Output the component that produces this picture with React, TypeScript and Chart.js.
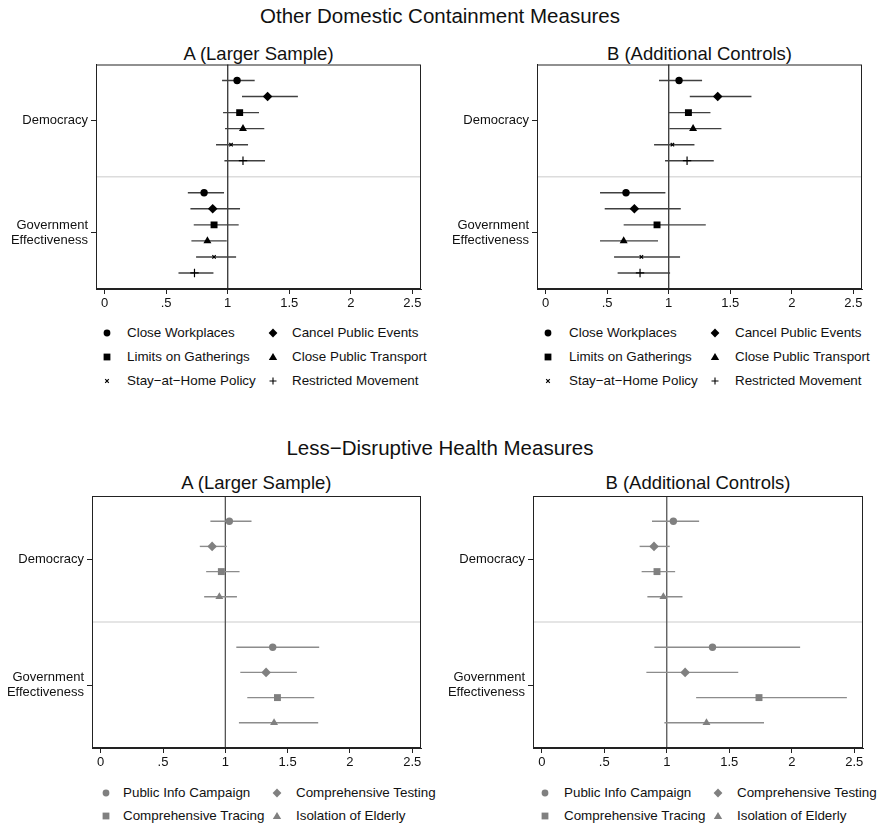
import React, { useEffect, useRef } from 'react';
import { Chart, registerables } from 'chart.js';
Chart.register(...registerables);

const FONT = '"Liberation Sans", Arial, Helvetica, sans-serif';

// ---- categories / labels ----
const containmentSeries = ['Close Workplaces', 'Cancel Public Events', 'Limits on Gatherings', 'Close Public Transport', 'Stay\u2212at\u2212Home Policy', 'Restricted Movement'];
const healthSeries = ['Public Info Campaign', 'Comprehensive Testing', 'Comprehensive Tracing', 'Isolation of Elderly'];
const groupLabels = ['Democracy', ['Government', 'Effectiveness']];
const xTickValues = [0, 0.5, 1, 1.5, 2, 2.5];
const xTickLabels = ['0', '.5', '1', '1.5', '2', '2.5'];

// ---- Other Domestic Containment Measures, A (Larger Sample) ----
const topA_dem = [1.076, 1.324, 1.097, 1.124, 1.027, 1.124];
const topA_demLo = [0.954, 1.116, 0.962, 0.978, 0.905, 0.973];
const topA_demHi = [1.219, 1.570, 1.254, 1.297, 1.165, 1.303];
const topA_gov = [0.808, 0.878, 0.889, 0.835, 0.889, 0.730];
const topA_govLo = [0.676, 0.697, 0.724, 0.705, 0.743, 0.600];
const topA_govHi = [0.970, 1.100, 1.089, 0.992, 1.068, 0.884];

// ---- Other Domestic Containment Measures, B (Additional Controls) ----
const topB_dem = [1.084, 1.398, 1.160, 1.198, 1.030, 1.149];
const topB_demLo = [0.921, 1.171, 1.000, 1.005, 0.881, 0.970];
const topB_demHi = [1.271, 1.672, 1.339, 1.428, 1.209, 1.366];
const topB_gov = [0.653, 0.721, 0.905, 0.634, 0.778, 0.767];
const topB_govLo = [0.442, 0.480, 0.634, 0.442, 0.556, 0.585];
const topB_govHi = [0.973, 1.098, 1.301, 0.913, 1.092, 1.011];

// ---- Less-Disruptive Health Measures, A (Larger Sample) ----
const botA_dem = [1.032, 0.894, 0.968, 0.952];
const botA_demLo = [0.880, 0.795, 0.846, 0.830];
const botA_demHi = [1.210, 1.011, 1.114, 1.093];
const botA_gov = [1.380, 1.327, 1.418, 1.391];
const botA_govLo = [1.088, 1.120, 1.176, 1.109];
const botA_govHi = [1.753, 1.574, 1.713, 1.745];

// ---- Less-Disruptive Health Measures, B (Additional Controls) ----
const botB_dem = [1.053, 0.898, 0.922, 0.973];
const botB_demLo = [0.882, 0.783, 0.799, 0.845];
const botB_demHi = [1.259, 1.024, 1.067, 1.126];
const botB_gov = [1.366, 1.147, 1.738, 1.318];
const botB_govLo = [0.901, 0.837, 1.235, 0.981];
const botB_govHi = [2.067, 1.572, 2.441, 1.778];

const markerStyles = ['circle', 'rectRot', 'rect', 'triangle', 'crossRot', 'cross'];
const markerRadii = [3.7, 4.8, 4.9, 4.6, 2.4, 4.2];

type PanelProps = {
  series: string[];
  dem: number[]; demLo: number[]; demHi: number[];
  gov: number[]; govLo: number[]; govHi: number[];
  left: number; top: number; width: number; height: number;
  yAxisWidth: number; padRight: number; padTop: number;
  markerColor: string; lineColor: string; refColor: string;
};

function Panel(p: PanelProps) {
  const ref = useRef<HTMLCanvasElement | null>(null);
  useEffect(() => {
    const n = p.series.length;
    const datasets: any[] = [];
    p.series.forEach((name, i) => {
      const isCross = markerStyles[i] === 'cross' || markerStyles[i] === 'crossRot';
      datasets.push({
        type: 'scatter',
        label: name,
        data: [{ x: p.dem[i], y: i }, { x: p.gov[i], y: n + 1 + i }],
        pointStyle: markerStyles[i],
        pointRadius: markerRadii[i],
        pointBackgroundColor: p.markerColor,
        pointBorderColor: p.markerColor,
        pointBorderWidth: isCross ? 1.2 : 0,
        showLine: false,
        order: 0,
      });
      const bars = [
        [p.demLo[i], p.demHi[i], i],
        [p.govLo[i], p.govHi[i], n + 1 + i],
      ];
      bars.forEach(([lo, hi, y]) => {
        datasets.push({
          type: 'scatter',
          label: name + ' CI',
          data: [{ x: lo, y }, { x: hi, y }],
          showLine: true,
          borderColor: p.lineColor,
          borderWidth: 1.4,
          pointRadius: 0,
          order: 1,
        });
      });
    });

    const frameColor = '#222';
    const framePlugin = {
      id: 'frame',
      beforeDatasetsDraw(chart: any) {
        const { ctx, chartArea: a, scales } = chart;
        ctx.save();
        const ys = scales.y.getPixelForValue(n);
        ctx.strokeStyle = '#dcdcdc';
        ctx.lineWidth = 1.5;
        ctx.beginPath();
        ctx.moveTo(a.left, ys);
        ctx.lineTo(a.right, ys);
        ctx.stroke();
        const x1 = scales.x.getPixelForValue(1);
        ctx.strokeStyle = p.refColor;
        ctx.lineWidth = 1.3;
        ctx.beginPath();
        ctx.moveTo(x1, a.top);
        ctx.lineTo(x1, a.bottom);
        ctx.stroke();
        ctx.restore();
      },
      afterDraw(chart: any) {
        const { ctx, chartArea: a } = chart;
        ctx.save();
        ctx.strokeStyle = frameColor;
        ctx.lineWidth = 1;
        ctx.strokeRect(a.left + 0.5, a.top + 0.5, a.right - a.left - 1, a.bottom - a.top - 1);
        ctx.restore();
      },
    };

    const tickFont = { family: FONT, size: 13 };
    const chart = new Chart(ref.current as HTMLCanvasElement, {
      type: 'scatter',
      data: { datasets },
      options: {
        animation: false,
        responsive: false,
        devicePixelRatio: 1,
        layout: { padding: { top: p.padTop, right: p.padRight, left: 0, bottom: 0 } },
        plugins: { legend: { display: false }, tooltip: { enabled: false } },
        scales: {
          x: {
            type: 'linear',
            min: -0.07,
            max: 2.57,
            afterBuildTicks: (s: any) => { s.ticks = xTickValues.map((v) => ({ value: v })); },
            afterFit: (s: any) => {
              s.height = 26;
              s.paddingLeft = 0; s.paddingRight = 0; s.paddingTop = 0; s.paddingBottom = 0;
            },
            ticks: {
              autoSkip: false,
              maxRotation: 0,
              padding: 2,
              color: '#111',
              font: tickFont,
              callback: (_v: any, i: number) => xTickLabels[i],
            },
            grid: { drawOnChartArea: false, drawTicks: true, tickLength: 5, color: frameColor, lineWidth: 1 },
            border: { display: true, color: frameColor, width: 1 },
          },
          y: {
            type: 'linear',
            reverse: true,
            min: -1,
            max: 2 * n + 1,
            afterBuildTicks: (s: any) => {
              s.ticks = [{ value: (n - 1) / 2 }, { value: n + 1 + (n - 1) / 2 }];
            },
            afterFit: (s: any) => {
              s.width = p.yAxisWidth;
              s.paddingLeft = 0; s.paddingRight = 0; s.paddingTop = 0; s.paddingBottom = 0;
            },
            ticks: {
              autoSkip: false,
              padding: 3,
              color: '#111',
              font: { family: FONT, size: 13, lineHeight: 1.15 },
              callback: (_v: any, i: number) => groupLabels[i] as any,
            },
            grid: { drawOnChartArea: false, drawTicks: true, tickLength: 5, color: frameColor, lineWidth: 1 },
            border: { display: true, color: frameColor, width: 1 },
          },
        },
      } as any,
      plugins: [framePlugin],
    });
    return () => chart.destroy();
  }, []);
  return (
    <canvas
      ref={ref}
      width={p.width}
      height={p.height}
      style={{ position: 'absolute', left: p.left, top: p.top, width: p.width, height: p.height }}
    />
  );
}

function Marker({ kind, color }: { kind: string; color: string }) {
  const s = 10;
  const c = 5;
  let el: any = null;
  if (kind === 'circle') el = <circle cx={c} cy={c} r={3.4} fill={color} />;
  else if (kind === 'rectRot') el = <polygon points={`${c},${c - 4.4} ${c + 4.4},${c} ${c},${c + 4.4} ${c - 4.4},${c}`} fill={color} />;
  else if (kind === 'rect') el = <rect x={c - 3.4} y={c - 3.4} width={6.8} height={6.8} fill={color} />;
  else if (kind === 'triangle') el = <polygon points={`${c},${c - 4} ${c + 4.2},${c + 3} ${c - 4.2},${c + 3}`} fill={color} />;
  else if (kind === 'crossRot') el = <path d={`M${c - 1.8},${c - 1.8}L${c + 1.8},${c + 1.8}M${c + 1.8},${c - 1.8}L${c - 1.8},${c + 1.8}`} stroke={color} strokeWidth={1.2} />;
  else el = <path d={`M${c - 3.5},${c}L${c + 3.5},${c}M${c},${c - 3.5}L${c},${c + 3.5}`} stroke={color} strokeWidth={1.1} />;
  return <svg width={s} height={s} style={{ position: 'absolute', left: -c, top: -c }}>{el}</svg>;
}

type LegendProps = {
  series: string[];
  rows: number[];
  cols: { marker: number; text: number }[];
  color: string;
};

function Legend({ series, rows, cols, color }: LegendProps) {
  return (
    <>
      {series.map((name, i) => {
        const r = Math.floor(i / 2);
        const col = cols[i % 2];
        const y = rows[r];
        return (
          <React.Fragment key={name}>
            <div style={{ position: 'absolute', left: col.marker, top: y }}>
              <Marker kind={markerStyles[i]} color={color} />
            </div>
            <div
              style={{
                position: 'absolute', left: col.text, top: y - 9, height: 18, lineHeight: '18px',
                fontFamily: FONT, fontSize: 13.4, color: '#111', whiteSpace: 'nowrap',
              }}
            >
              {name}
            </div>
          </React.Fragment>
        );
      })}
    </>
  );
}

function Title({ text, cx, cy, size }: { text: string; cx: number; cy: number; size: number }) {
  return (
    <div
      style={{
        position: 'absolute', left: cx - 250, width: 500, top: cy - size * 0.6, height: size * 1.2,
        lineHeight: `${size * 1.2}px`, textAlign: 'center', fontFamily: FONT, fontSize: size, color: '#111',
        whiteSpace: 'nowrap',
      }}
    >
      {text}
    </div>
  );
}

export default function App() {
  const black = '#000';
  const darkLine = '#404040';
  const gray = '#808080';
  const grayLine = '#8c8c8c';
  return (
    <div style={{ position: 'absolute', left: 0, top: 0, width: 879, height: 829, background: '#fff', overflow: 'hidden' }}>
      <Title text="Other Domestic Containment Measures" cx={440} cy={16} size={20.5} />
      <Title text="A (Larger Sample)" cx={258.5} cy={54} size={18.5} />
      <Title text="B (Additional Controls)" cx={699.5} cy={54} size={18.5} />
      <Panel series={containmentSeries} dem={topA_dem} demLo={topA_demLo} demHi={topA_demHi}
        gov={topA_gov} govLo={topA_govLo} govHi={topA_govHi}
        left={0} top={55} width={440} height={260} yAxisWidth={96} padRight={19} padTop={9.5}
        markerColor={black} lineColor={darkLine} refColor="#333" />
      <Panel series={containmentSeries} dem={topB_dem} demLo={topB_demLo} demHi={topB_demHi}
        gov={topB_gov} govLo={topB_govLo} govHi={topB_govHi}
        left={440} top={55} width={439} height={260} yAxisWidth={97} padRight={17} padTop={9.5}
        markerColor={black} lineColor={darkLine} refColor="#333" />
      <Legend series={containmentSeries} rows={[333, 357, 381]}
        cols={[{ marker: 107, text: 127 }, { marker: 273, text: 292 }]} color={black} />
      <Legend series={containmentSeries} rows={[333, 357, 381]}
        cols={[{ marker: 548, text: 569 }, { marker: 715, text: 735 }]} color={black} />

      <Title text={'Less\u2212Disruptive Health Measures'} cx={440} cy={448} size={20.5} />
      <Title text="A (Larger Sample)" cx={256.4} cy={483} size={18.5} />
      <Title text="B (Additional Controls)" cx={698} cy={483} size={18.5} />
      <Panel series={healthSeries} dem={botA_dem} demLo={botA_demLo} demHi={botA_demHi}
        gov={botA_gov} govLo={botA_govLo} govHi={botA_govHi}
        left={0} top={486} width={440} height={288} yAxisWidth={92} padRight={19} padTop={10}
        markerColor={gray} lineColor={grayLine} refColor="#555" />
      <Panel series={healthSeries} dem={botB_dem} demLo={botB_demLo} demHi={botB_demHi}
        gov={botB_gov} govLo={botB_govLo} govHi={botB_govHi}
        left={440} top={486} width={439} height={288} yAxisWidth={93} padRight={16} padTop={10}
        markerColor={gray} lineColor={grayLine} refColor="#555" />
      <Legend series={healthSeries} rows={[793, 816]}
        cols={[{ marker: 106, text: 123 }, { marker: 277, text: 296 }]} color={gray} />
      <Legend series={healthSeries} rows={[793, 816]}
        cols={[{ marker: 545, text: 564 }, { marker: 718, text: 737 }]} color={gray} />
    </div>
  );
}
